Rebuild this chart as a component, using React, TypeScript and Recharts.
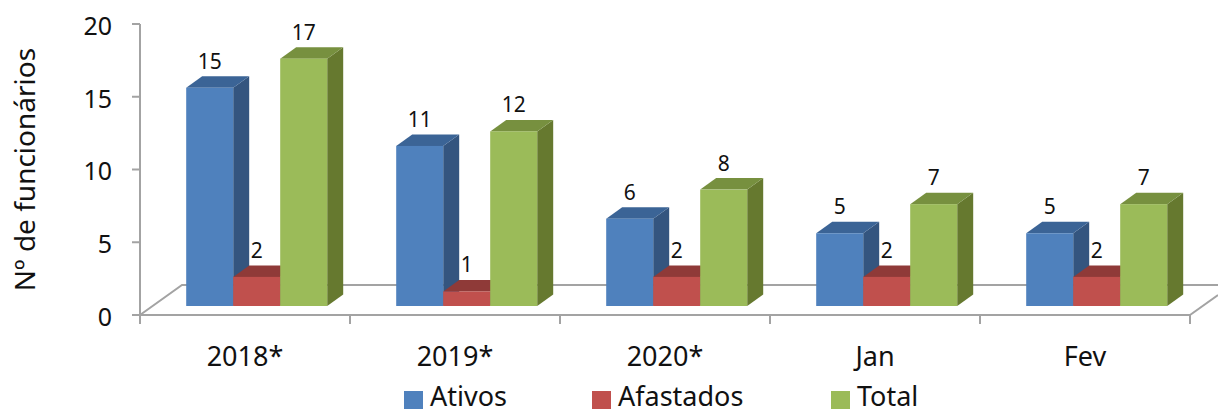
import { Bar, BarChart, Customized, LabelList, Legend, XAxis, YAxis, usePlotArea } from 'recharts';

const categories = ['2018*', '2019*', '2020*', 'Jan', 'Fev'];
const ativos = [15, 11, 6, 5, 5];
const afastados = [2, 1, 2, 2, 2];
const total = [17, 12, 8, 7, 7];
const yTicks = [0, 5, 10, 15, 20];

const data = categories.map((name, i) => ({
  name,
  Ativos: ativos[i],
  Afastados: afastados[i],
  Total: total[i],
}));

const FONT = '"Noto Sans", sans-serif';
const AXIS = '#a3a3a3';
const TEXT = '#111';

// faux 3D: how far the front face sits off the axis plane, and the depth of the box
const SHIFT_X = 11.2;
const SHIFT_Y = 9;
const DEPTH_X = 16;
const DEPTH_Y = 11.5;

const SERIES = [
  { key: 'Ativos', front: '#4f81bd', top: '#3b6496', side: '#34557f' },
  { key: 'Afastados', front: '#c0504d', top: '#8f3a38', side: '#7f3331' },
  { key: 'Total', front: '#9bbb59', top: '#77903f', side: '#66792f' },
];

function Box3D(props: any) {
  const { x, y, width, height, front, top, side } = props;
  const l = x + SHIFT_X;
  const r = l + width;
  const t = y - SHIFT_Y;
  const b = t + height;
  return (
    <g>
      <polygon points={`${r},${t} ${r + DEPTH_X},${t - DEPTH_Y} ${r + DEPTH_X},${b - DEPTH_Y} ${r},${b}`} fill={side} />
      <polygon points={`${l},${t} ${l + DEPTH_X},${t - DEPTH_Y} ${r + DEPTH_X},${t - DEPTH_Y} ${r},${t}`} fill={top} />
      <rect x={l} y={t} width={width} height={height} fill={front} />
    </g>
  );
}

function BarValue(props: any) {
  const { x, y, width, value } = props;
  return (
    <text x={x + SHIFT_X + width / 2} y={y - SHIFT_Y - 19} textAnchor="middle" fontFamily={FONT} fontSize={21} fill={TEXT}>
      {value}
    </text>
  );
}

function Floor() {
  const plot = usePlotArea();
  if (!plot) return null;
  const bottom = plot.y + plot.height;
  const right = plot.x + plot.width;
  const band = plot.width / categories.length;
  return (
    <g stroke={AXIS} strokeWidth={2} fill="none">
      <polyline points={`${plot.x},${bottom} ${plot.x + 42},${bottom - 30} 1218,${bottom - 30}`} />
      <line x1={plot.x} y1={bottom} x2={right} y2={bottom} />
      <line x1={right} y1={bottom} x2={1218} y2={bottom - 20} />
      {categories.map((_, i) => (
        <line key={i} x1={plot.x + band * (i + 1)} y1={bottom} x2={plot.x + band * (i + 1)} y2={bottom + 9} />
      ))}
      <line x1={plot.x} y1={bottom} x2={plot.x} y2={bottom + 9} />
    </g>
  );
}

function LegendRow() {
  return (
    <div style={{ position: 'relative', height: 28, fontFamily: FONT, fontSize: 27, color: TEXT }}>
      {[
        { label: 'Ativos', color: SERIES[0].front, left: 404 },
        { label: 'Afastados', color: SERIES[1].front, left: 592 },
        { label: 'Total', color: SERIES[2].front, left: 831 },
      ].map((item) => (
        <div key={item.label} style={{ position: 'absolute', left: item.left, top: 0, height: 28, lineHeight: '28px', whiteSpace: 'nowrap' }}>
          <span style={{ display: 'inline-block', width: 19, height: 18, background: item.color, marginRight: 7, verticalAlign: -3 }} />
          {item.label}
        </div>
      ))}
    </div>
  );
}

export default function App() {
  return (
    <div style={{ position: 'absolute', left: 0, top: 0, width: 1218, height: 415, overflow: 'hidden', background: '#fff' }}>
      <BarChart
        width={1218}
        height={415}
        data={data}
        margin={{ top: 24, right: 28, bottom: 12, left: 80 }}
        barCategoryGap={35}
        barGap={0}
      >
        <Customized component={<Floor />} />
        <XAxis
          dataKey="name"
          height={60}
          axisLine={false}
          tickLine={false}
          tickMargin={26}
          interval={0}
          tick={{ fontFamily: FONT, fontSize: 27, fill: TEXT }}
        />
        <YAxis
          width={60}
          domain={[0, 20]}
          ticks={yTicks}
          interval={0}
          axisLine={{ stroke: AXIS, strokeWidth: 2 }}
          tickLine={{ stroke: AXIS, strokeWidth: 2 }}
          tickSize={8}
          tickMargin={20}
          tick={{ fontFamily: FONT, fontSize: 25, fill: TEXT, dy: 2 }}
          label={{
            value: 'Nº de funcionários',
            angle: -90,
            position: 'center',
            dx: -85,
            fontFamily: FONT,
            fontSize: 28,
            fill: TEXT,
          }}
        />
        <Legend verticalAlign="bottom" content={() => <LegendRow />} wrapperStyle={{ left: 0, bottom: 5, width: 1218 }} />
        {SERIES.map((s) => (
          <Bar
            key={s.key}
            dataKey={s.key}
            isAnimationActive={false}
            fill={s.front}
            shape={(p: any) => <Box3D {...p} front={s.front} top={s.top} side={s.side} />}
          >
            <LabelList dataKey={s.key} content={(p: any) => <BarValue {...p} />} />
          </Bar>
        ))}
      </BarChart>
    </div>
  );
}
